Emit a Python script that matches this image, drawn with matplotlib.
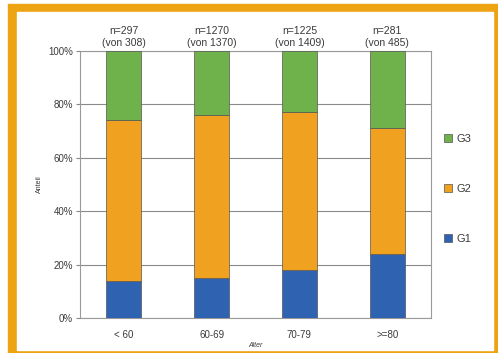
import matplotlib.pyplot as plt
import matplotlib.patches as mpatches
import numpy as np

plt.rcParams['font.family'] = ['Liberation Sans', 'DejaVu Sans']

# Anteile je Altersgruppe (Prozent)
gruppen = ['< 60', '60-69', '70-79', '>=80']
g1 = [14, 15, 18, 24]
g2 = [60, 61, 59, 47]
g3 = [26, 24, 23, 29]
n_werte = [297, 1270, 1225, 281]
von_werte = [308, 1370, 1409, 485]

col_g1 = '#2f62b1'
col_g2 = '#f0a11f'
col_g3 = '#6fb24b'
textcol = '#3a3a3a'

fig = plt.figure(figsize=(4.98, 3.53), dpi=100)
W, H = 498, 353

# orangener Rahmen
fig.patches.append(mpatches.Rectangle((8 / W, 0), (W - 8) / W, (H - 4) / H,
                                      transform=fig.transFigure, color='#eda412', zorder=-2))
fig.patches.append(mpatches.Rectangle((17 / W, 3 / H), (493 - 17) / W, (350 - 12) / H,
                                      transform=fig.transFigure, color='white', zorder=-1))

ax = fig.add_axes([80 / W, (H - 318) / H, 351 / W, 267 / H])
ax.set_facecolor('white')

x = np.arange(len(gruppen))
b1 = np.array(g1)
b2 = np.array(g2)
b3 = np.array(g3)
kw = dict(width=0.4, edgecolor='#555555', linewidth=0.5, zorder=3)
ax.bar(x, b1, color=col_g1, label='G1', **kw)
ax.bar(x, b2, bottom=b1, color=col_g2, label='G2', **kw)
ax.bar(x, b3, bottom=b1 + b2, color=col_g3, label='G3', **kw)

ax.set_xlim(-0.5, len(gruppen) - 0.5)
ax.set_ylim(0, 100)
ax.set_yticks(range(0, 101, 20))
ax.set_yticklabels([f'{v}%' for v in range(0, 101, 20)])
ax.set_xticks(x)
ax.set_xticklabels(gruppen)
ax.tick_params(axis='y', length=3, width=0.8, color='#888888', labelsize=7, labelcolor=textcol, pad=2)
ax.tick_params(axis='x', length=0, labelsize=7, labelcolor=textcol, pad=9)
ax.yaxis.grid(True, color='#8a8a8a', linewidth=0.8, zorder=0)
ax.set_axisbelow(True)
for s in ax.spines.values():
    s.set_color('#9a9a9a')
    s.set_linewidth(0.8)

ax.set_ylabel('Anteil', fontsize=5, color=textcol, labelpad=4)
ax.set_xlabel('Alter', fontsize=5, color=textcol, style='italic', labelpad=1)

for i in range(len(gruppen)):
    ax.text(x[i], 101, f'n={n_werte[i]}\n(von {von_werte[i]})', ha='center', va='bottom',
            fontsize=7.5, color=textcol, linespacing=1.25)

handles, labels = ax.get_legend_handles_labels()
leg = fig.legend(handles[::-1], labels[::-1], loc='upper left', bbox_to_anchor=(434 / W, 1 - 124 / H),
                 frameon=False, fontsize=8, handlelength=0.7, handleheight=0.7,
                 handletextpad=0.4, labelspacing=3.6, labelcolor=textcol)

fig.savefig('out.png', dpi=100)
